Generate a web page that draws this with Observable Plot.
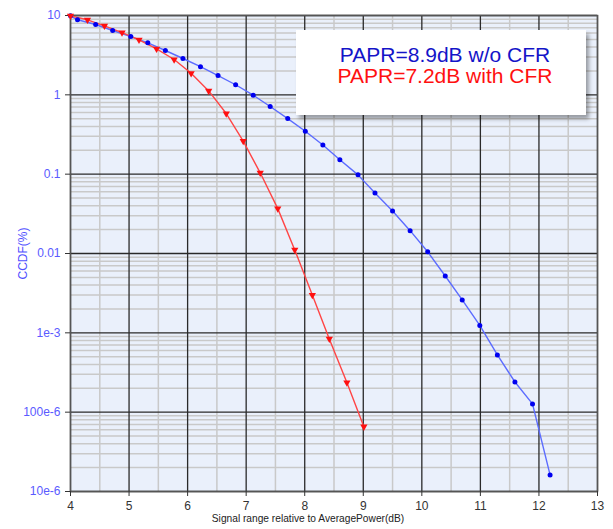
<!DOCTYPE html>
<html>
<head>
<meta charset="utf-8">
<script src="https://cdn.jsdelivr.net/npm/d3@7"></script>
<script src="https://cdn.jsdelivr.net/npm/@observablehq/plot@0.6"></script>
<style>
  html, body { margin: 0; padding: 0; background: #fff; }
  #wrap { position: relative; width: 613px; height: 529px; font-family: "Liberation Sans", Arial, sans-serif; }
  #wrap svg { font-family: "Liberation Sans", Arial, sans-serif; }
  g[aria-label="y-axis tick label"] text { fill: #5a5aff; }
  g[aria-label="y-axis label"] text { fill: #4f4fff; }
  g[aria-label="x-axis tick label"] text { fill: #333; }
  #legend {
    position: absolute; left: 296px; top: 30px; width: 290px; height: 85px;
    background: #fff; box-shadow: 3px 4px 4px rgba(0,0,0,0.35);
    text-align: center; font-size: 21px; line-height: 21px; box-sizing: border-box; padding-top: 14px; padding-left: 8px;
  }
  #legend .b { color: #1414c8; }
  #legend .r { color: #ff1010; }
</style>
</head>
<body>
<div id="wrap"></div>
<script>
// ---- data ----
const xTicks = [4, 5, 6, 7, 8, 9, 10, 11, 12, 13];
const xMinorTicks = [4.5, 5.5, 6.5, 7.5, 8.5, 9.5, 10.5, 11.5, 12.5];
const yTicks = [1e-5, 1e-4, 1e-3, 1e-2, 0.1, 1, 10];
const yTickLabels = ["10e-6", "100e-6", "1e-3", "0.01", "0.1", "1", "10"];
const yMinorMultipliers = [2, 3, 4, 5, 6, 7, 8, 9];

const blueX = [4.0, 4.12, 4.43, 4.72, 5.03, 5.32, 5.62, 5.92, 6.22, 6.52, 6.82, 7.12, 7.41, 7.71, 8.01, 8.31, 8.60, 8.91, 9.20, 9.50, 9.80, 10.10, 10.40, 10.69, 10.99, 11.29, 11.59, 11.89, 12.19];
const blueY = [9.9, 8.83, 7.70, 6.47, 5.43, 4.53, 3.62, 2.87, 2.26, 1.75, 1.34, 0.99, 0.712, 0.502, 0.348, 0.233, 0.152, 0.098, 0.058, 0.0344, 0.0194, 0.0105, 0.00521, 0.0026, 0.00124, 5.26e-4, 2.40e-4, 1.27e-4, 1.62e-5];
const redX = [4.0, 4.29, 4.58, 4.88, 5.17, 5.47, 5.77, 6.06, 6.36, 6.66, 6.95, 7.24, 7.54, 7.83, 8.13, 8.42, 8.72, 9.01];
const redY = [9.9, 8.83, 7.41, 6.10, 4.94, 3.80, 2.79, 1.87, 1.12, 0.581, 0.261, 0.104, 0.0368, 0.0111, 0.0030, 8.38e-4, 2.36e-4, 6.56e-5];

const legendLabels = ["PAPR=8.9dB w/o CFR", "PAPR=7.2dB with CFR"];
const xLabel = "Signal range relative to AveragePower(dB)";
const yLabel = "CCDF(%)";

// ---- build ----
const blue = blueX.map((x, i) => ({x, y: blueY[i]}));
const red = redX.map((x, i) => ({x, y: redY[i]}));
const yMinor = [];
for (const t of yTicks.slice(0, -1)) for (const m of yMinorMultipliers) yMinor.push(t * m);
const labelOf = new Map(yTicks.map((t, i) => [t, yTickLabels[i]]));

const chart = Plot.plot({
  width: 613,
  height: 529,
  marginLeft: 70,
  marginRight: 16,
  marginTop: 15,
  marginBottom: 38,
  style: {background: "transparent", fontSize: "11px"},
  x: {domain: [4, 13]},
  y: {type: "log", domain: [1e-5, 10]},
  marks: [
    Plot.frame({fill: "#eaf0fb", stroke: null}),
    Plot.ruleX(xMinorTicks, {stroke: "#c9c9c9", strokeWidth: 1.5}),
    Plot.ruleY(yMinor, {stroke: "#c9c9c9", strokeWidth: 1.5}),
    Plot.ruleX(xTicks, {stroke: "#2a2a2a", strokeWidth: 1.3}),
    Plot.ruleY(yTicks, {stroke: "#2a2a2a", strokeWidth: 1.3}),
    Plot.frame({stroke: "#555", strokeWidth: 1.5}),
    Plot.axisX({ticks: xTicks, tickSize: 5, tickPadding: 5, stroke: "#333", fontSize: 12, label: null}),
    Plot.text([xLabel], {frameAnchor: "bottom", dy: 30, dx: -26, fontSize: 10.2, fill: "#222", text: d => d}),
    Plot.axisY({ticks: yTicks, tickSize: 5, tickPadding: 5, stroke: "#333", fontSize: 12,
      tickFormat: d => labelOf.get(d) ?? "",
      label: yLabel, labelAnchor: "center", labelOffset: 52, labelArrow: false}),
    Plot.line(blue, {x: "x", y: "y", stroke: "#5c6cff", strokeWidth: 1.4}),
    Plot.line(red, {x: "x", y: "y", stroke: "#ff4545", strokeWidth: 1.4}),
    Plot.dot(blue, {x: "x", y: "y", r: 2.5, fill: "#0000f0", stroke: null}),
    Plot.dot(red, {x: "x", y: "y", r: 2.7, symbol: "triangle", rotate: 180, fill: "#ff1010", stroke: null})
  ]
});
const wrap = document.getElementById("wrap");
wrap.appendChild(chart);
const lg = document.createElement("div");
lg.id = "legend";
lg.innerHTML = `<div class="b">${legendLabels[0]}</div><div class="r">${legendLabels[1]}</div>`;
wrap.appendChild(lg);
</script>
</body>
</html>
